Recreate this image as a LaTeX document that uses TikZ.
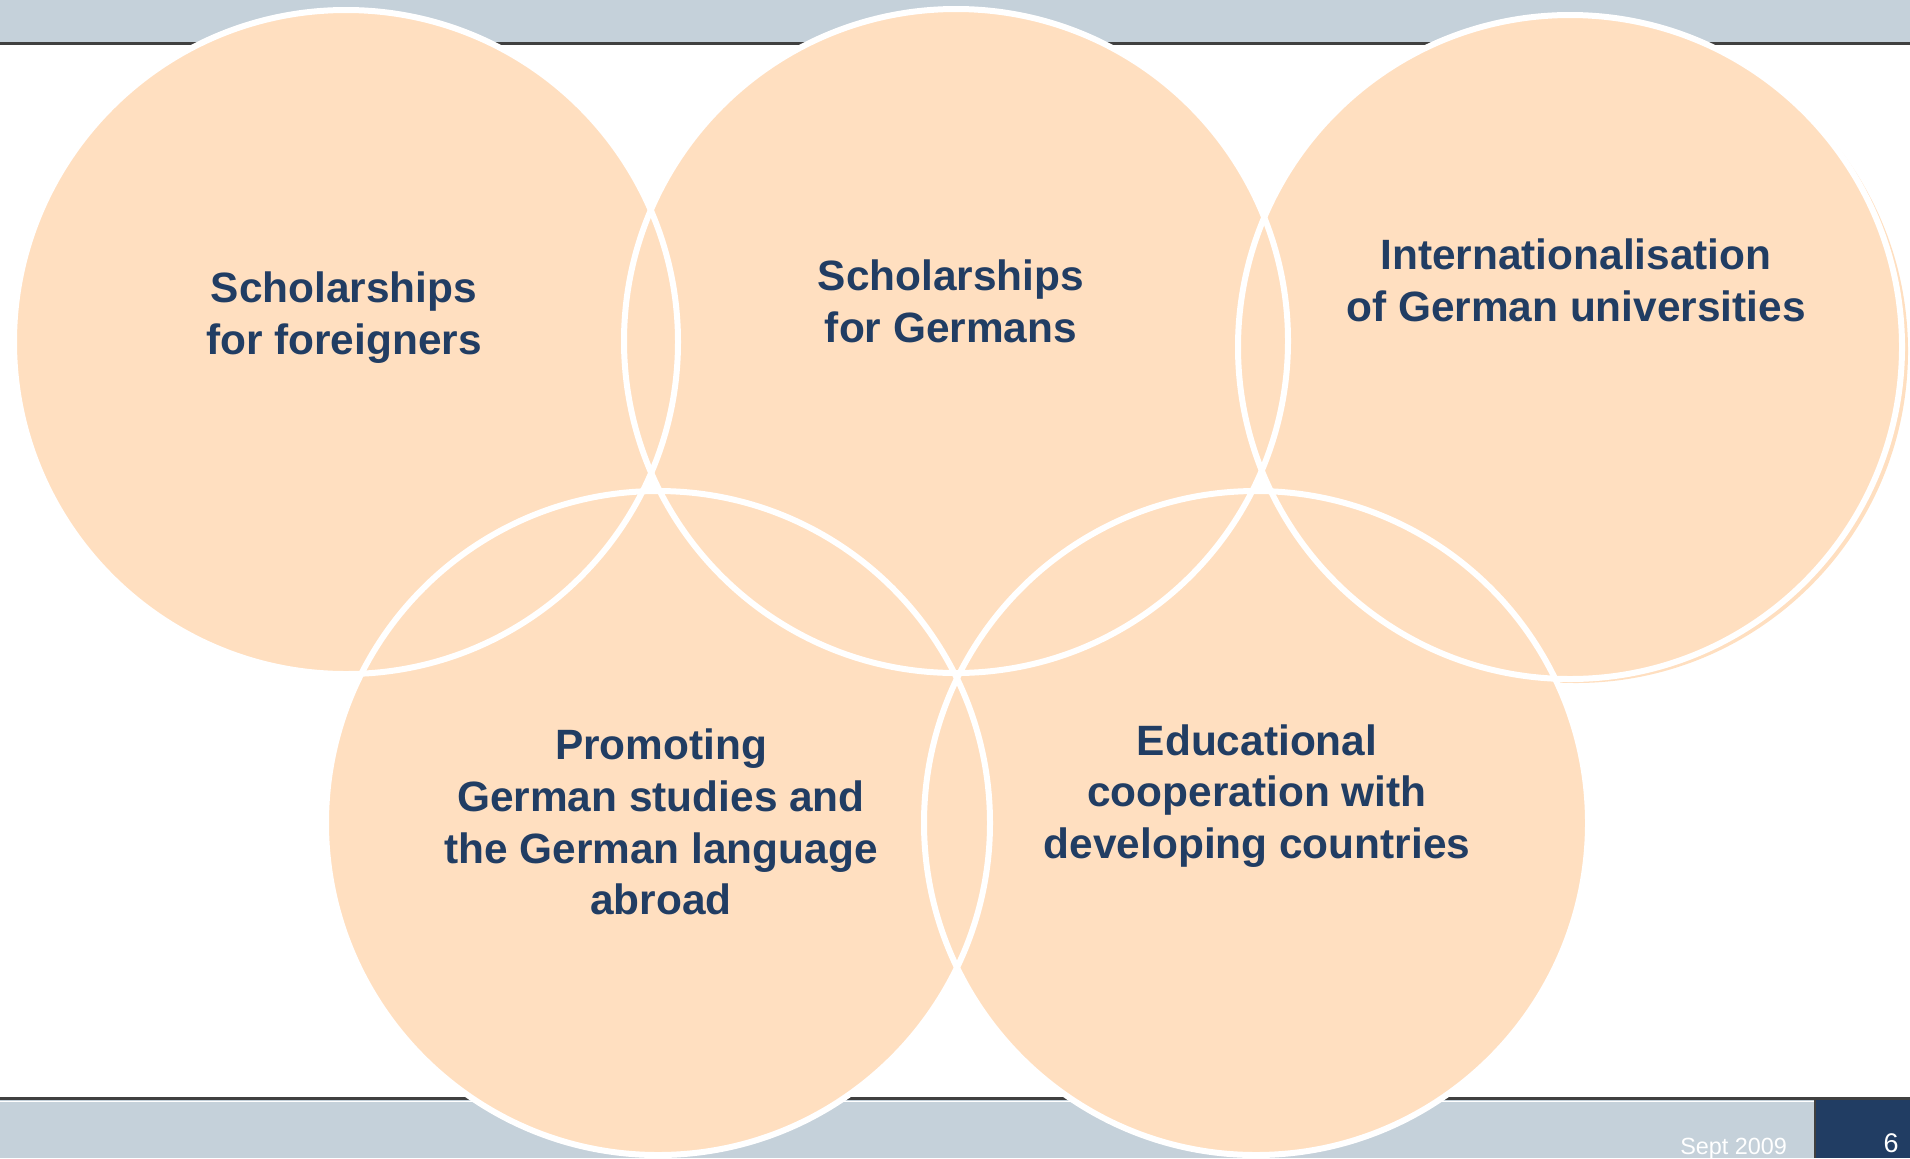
\documentclass[tikz,border=0pt]{standalone}
\usepackage{fontspec}
\setmainfont{Liberation Sans}
\definecolor{peach}{RGB}{255,223,192}
\definecolor{barblue}{RGB}{197,209,218}
\definecolor{darkline}{RGB}{64,64,64}
\definecolor{navy}{RGB}{33,61,99}
\begin{document}
\begin{tikzpicture}[x=0.5pt,y=-0.5pt,
  disc/.style={circle,fill=peach,inner sep=0pt,minimum size=332pt},
  ring/.style={draw=white,line width=3pt},
  label/.style={text=navy,align=center,font=\fontsize{21.2pt}{25.9pt}\selectfont\bfseries}]
\useasboundingbox (0,0) rectangle (1910,1158);
% top bar
\fill[barblue] (0,0) rectangle (1910,42);
\fill[darkline] (0,42) rectangle (1910,44.5);
% bottom bar
\fill[barblue] (0,1100) rectangle (1910,1158);
\fill[darkline] (0,1097) rectangle (1910,1100);
\fill[white] (0,1100.5) rectangle (1814,1102);
\fill[navy] (1816,1100) rectangle (1910,1158);
\fill[darkline] (1814,1100) rectangle (1816,1158);
\node[text=white,font=\fontsize{11.7pt}{14pt}\selectfont,anchor=base east] (date) at (1794,1154) {Sept 2009};
\node[text=white,font=\fontsize{13.5pt}{16pt}\selectfont,anchor=base] (page) at (1891,1152) {6};
% circle fills
\node[disc] (c3s) at (1576,351) {};
\node[disc] (c1) at (346,342) {};
\node[disc] (c2) at (956,341) {};
\node[disc] (c3) at (1570,347) {};
\node[disc] (c4) at (658,823) {};
\node[disc] (c5) at (1256,823) {};
% white outlines
\foreach \c in {c1,c2,c3,c4,c5}
  \draw[ring] (\c.center) circle[radius=332];
% labels
\node[label] (t1) at (344,318) {Scholarships\\for foreigners};
\node[label] (t2) at (951,301) {Scholarships\\for Germans};
\node[label] (t3) at (1576,280) {Internationalisation\\of German universities};
\node[label] (t4) at (661,822) {Promoting\\German studies and\\the German language\\abroad};
\node[label] (t5) at (1257,796) {Educational\\cooperation with\\developing countries};
\end{tikzpicture}
\end{document}
